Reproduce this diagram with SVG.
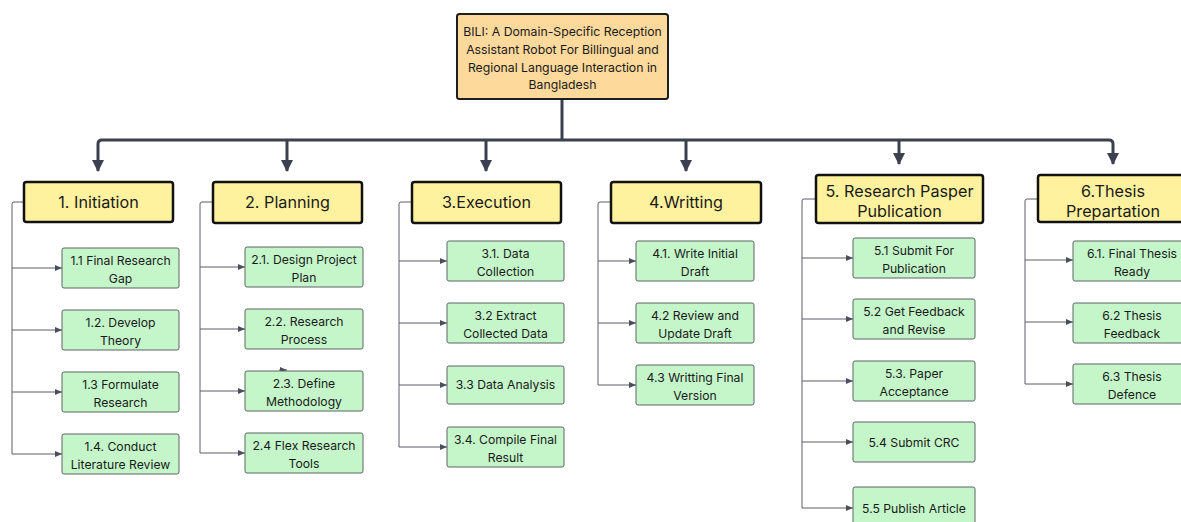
<svg xmlns="http://www.w3.org/2000/svg" width="1181" height="522" viewBox="0 0 1181 522">
  <style>
    .root { fill: #FDD99C; stroke: #1e1e1e; stroke-width: 2; }
    .phase { fill: #FFF29E; stroke: #111111; stroke-width: 2.5; }
    .task { fill: #C4F6CA; stroke: #5f6368; stroke-width: 1; }
    .t { font-family: Inter, "Noto Sans", "Liberation Sans", sans-serif; fill: #1a1a1a; text-anchor: middle; }
    .rt { font-size: 12.25px; }
    .pt { font-size: 16.2px; }
    .ct { font-size: 12.2px; }
    .bus { fill: none; stroke: #3c4150; stroke-width: 3; stroke-linejoin: round; }
    .sub { fill: none; stroke: #5a5f6b; stroke-width: 1; }
  </style>
  <defs>
    <marker id="bigArrow" markerUnits="userSpaceOnUse" markerWidth="12" markerHeight="12" refX="11" refY="6" orient="auto">
      <path d="M0,0 L12,6 L0,12 z" fill="#3c4150"/>
    </marker>
    <marker id="smallArrow" markerUnits="userSpaceOnUse" markerWidth="7" markerHeight="6" refX="7" refY="3" orient="auto">
      <path d="M0,0 L7,3 L0,6 z" fill="#4a4f5c"/>
    </marker>
  </defs>
  <rect width="1181" height="522" fill="#ffffff"/>

  <!-- connectors -->
  <g id="connectors">
    <!-- trunk and bus -->
    <path class="bus" d="M562,99 V140"/>
    <path class="bus" d="M560,140 H102 Q98,140 98,144 V171" marker-end="url(#bigArrow)"/>
    <path class="bus" d="M560,140 H1109 Q1113,140 1113,144 V164" marker-end="url(#bigArrow)"/>
    <path class="bus" d="M287,140 V171" marker-end="url(#bigArrow)"/>
    <path class="bus" d="M486,140 V171" marker-end="url(#bigArrow)"/>
    <path class="bus" d="M686,140 V171" marker-end="url(#bigArrow)"/>
    <path class="bus" d="M899,140 V164" marker-end="url(#bigArrow)"/>

    <!-- 1. Initiation -->
    <path class="sub" d="M24,202 H14 Q12,202 12,204 V454"/>
    <path class="sub" d="M12,268 H62" marker-end="url(#smallArrow)"/>
    <path class="sub" d="M12,330 H62" marker-end="url(#smallArrow)"/>
    <path class="sub" d="M12,392 H62" marker-end="url(#smallArrow)"/>
    <path class="sub" d="M12,454 H62" marker-end="url(#smallArrow)"/>

    <!-- 2. Planning -->
    <path class="sub" d="M213,202 H202 Q200,202 200,204 V453"/>
    <path class="sub" d="M200,267 H245" marker-end="url(#smallArrow)"/>
    <path class="sub" d="M200,329 H245" marker-end="url(#smallArrow)"/>
    <path class="sub" d="M200,391 H245" marker-end="url(#smallArrow)"/>
    <path class="sub" d="M200,453 H245" marker-end="url(#smallArrow)"/>
    <path class="sub" d="M279,370 H287" marker-end="url(#smallArrow)"/>

    <!-- 3. Execution -->
    <path class="sub" d="M412,202 H401 Q399,202 399,204 V447"/>
    <path class="sub" d="M399,261 H447" marker-end="url(#smallArrow)"/>
    <path class="sub" d="M399,323 H447" marker-end="url(#smallArrow)"/>
    <path class="sub" d="M399,385 H447" marker-end="url(#smallArrow)"/>
    <path class="sub" d="M399,447 H447" marker-end="url(#smallArrow)"/>

    <!-- 4. Writting -->
    <path class="sub" d="M611,202 H600 Q598,202 598,204 V385"/>
    <path class="sub" d="M598,261 H636" marker-end="url(#smallArrow)"/>
    <path class="sub" d="M598,323 H636" marker-end="url(#smallArrow)"/>
    <path class="sub" d="M598,385 H636" marker-end="url(#smallArrow)"/>

    <!-- 5. Research Pasper Publication -->
    <path class="sub" d="M816,199 H804 Q802,199 802,201 V508"/>
    <path class="sub" d="M802,258 H853" marker-end="url(#smallArrow)"/>
    <path class="sub" d="M802,319 H853" marker-end="url(#smallArrow)"/>
    <path class="sub" d="M802,381 H853" marker-end="url(#smallArrow)"/>
    <path class="sub" d="M802,442 H853" marker-end="url(#smallArrow)"/>
    <path class="sub" d="M802,508 H853" marker-end="url(#smallArrow)"/>

    <!-- 6. Thesis Prepartation -->
    <path class="sub" d="M1038,199 H1027 Q1025,199 1025,201 V384"/>
    <path class="sub" d="M1025,260 H1073" marker-end="url(#smallArrow)"/>
    <path class="sub" d="M1025,322 H1073" marker-end="url(#smallArrow)"/>
    <path class="sub" d="M1025,384 H1073" marker-end="url(#smallArrow)"/>
  </g>

  <!-- root -->
  <g id="root">
    <rect class="root" x="457" y="14" width="211" height="85" rx="2.5"/>
    <text class="t rt" x="562.5" y="35.5">BILI: A Domain-Specific Reception</text>
    <text class="t rt" x="562.5" y="53.5">Assistant Robot For Billingual and</text>
    <text class="t rt" x="562.5" y="71.5">Regional Language Interaction in</text>
    <text class="t rt" x="562.5" y="89">Bangladesh</text>
  </g>

  <!-- phases -->
  <g id="phase-1">
    <rect class="phase" x="24" y="182" width="149" height="40" rx="2.5"/>
    <text class="t pt" x="98.5" y="208">1. Initiation</text>
  </g>
  <g id="phase-2">
    <rect class="phase" x="213" y="182" width="149" height="41" rx="2.5"/>
    <text class="t pt" x="287.5" y="208">2. Planning</text>
  </g>
  <g id="phase-3">
    <rect class="phase" x="412" y="182" width="149" height="41" rx="2.5"/>
    <text class="t pt" x="486.5" y="208">3.Execution</text>
  </g>
  <g id="phase-4">
    <rect class="phase" x="611" y="182" width="150" height="41" rx="2.5"/>
    <text class="t pt" x="686" y="208">4.Writting</text>
  </g>
  <g id="phase-5">
    <rect class="phase" x="816" y="175" width="167" height="48" rx="2.5"/>
    <text class="t pt" x="899.5" y="197">5. Research Pasper</text>
    <text class="t pt" x="899.5" y="217">Publication</text>
  </g>
  <g id="phase-6">
    <rect class="phase" x="1038" y="175" width="150" height="47" rx="2.5"/>
    <text class="t pt" x="1113" y="197">6.Thesis</text>
    <text class="t pt" x="1113" y="217">Prepartation</text>
  </g>

  <!-- 1. Initiation tasks -->
  <g id="task-1-1">
    <rect class="task" x="62" y="248" width="117" height="40" rx="2"/>
    <text class="t ct" x="120.5" y="265">1.1 Final Research</text>
    <text class="t ct" x="120.5" y="283">Gap</text>
  </g>
  <g id="task-1-2">
    <rect class="task" x="62" y="310" width="117" height="40" rx="2"/>
    <text class="t ct" x="120.5" y="327">1.2. Develop</text>
    <text class="t ct" x="120.5" y="345">Theory</text>
  </g>
  <g id="task-1-3">
    <rect class="task" x="62" y="372" width="117" height="40" rx="2"/>
    <text class="t ct" x="120.5" y="389">1.3 Formulate</text>
    <text class="t ct" x="120.5" y="407">Research</text>
  </g>
  <g id="task-1-4">
    <rect class="task" x="62" y="434" width="117" height="40" rx="2"/>
    <text class="t ct" x="120.5" y="451">1.4. Conduct</text>
    <text class="t ct" x="120.5" y="469">Literature Review</text>
  </g>

  <!-- 2. Planning tasks -->
  <g id="task-2-1">
    <rect class="task" x="245" y="247" width="118" height="40" rx="2"/>
    <text class="t ct" x="304" y="264">2.1. Design Project</text>
    <text class="t ct" x="304" y="282">Plan</text>
  </g>
  <g id="task-2-2">
    <rect class="task" x="245" y="309" width="118" height="40" rx="2"/>
    <text class="t ct" x="304" y="326">2.2. Research</text>
    <text class="t ct" x="304" y="344">Process</text>
  </g>
  <g id="task-2-3">
    <rect class="task" x="245" y="371" width="118" height="40" rx="2"/>
    <text class="t ct" x="304" y="388">2.3. Define</text>
    <text class="t ct" x="304" y="406">Methodology</text>
  </g>
  <g id="task-2-4">
    <rect class="task" x="245" y="433" width="118" height="40" rx="2"/>
    <text class="t ct" x="304" y="450">2.4 Flex Research</text>
    <text class="t ct" x="304" y="468">Tools</text>
  </g>

  <!-- 3. Execution tasks -->
  <g id="task-3-1">
    <rect class="task" x="447" y="241" width="117" height="40" rx="2"/>
    <text class="t ct" x="505.5" y="258">3.1. Data</text>
    <text class="t ct" x="505.5" y="276">Collection</text>
  </g>
  <g id="task-3-2">
    <rect class="task" x="447" y="303" width="117" height="40" rx="2"/>
    <text class="t ct" x="505.5" y="320">3.2 Extract</text>
    <text class="t ct" x="505.5" y="338">Collected Data</text>
  </g>
  <g id="task-3-3">
    <rect class="task" x="447" y="366" width="117" height="38" rx="2"/>
    <text class="t ct" x="505.5" y="389">3.3 Data Analysis</text>
  </g>
  <g id="task-3-4">
    <rect class="task" x="447" y="427" width="117" height="40" rx="2"/>
    <text class="t ct" x="505.5" y="444">3.4. Compile Final</text>
    <text class="t ct" x="505.5" y="462">Result</text>
  </g>

  <!-- 4. Writting tasks -->
  <g id="task-4-1">
    <rect class="task" x="636" y="241" width="118" height="40" rx="2"/>
    <text class="t ct" x="695" y="258">4.1. Write Initial</text>
    <text class="t ct" x="695" y="276">Draft</text>
  </g>
  <g id="task-4-2">
    <rect class="task" x="636" y="303" width="118" height="40" rx="2"/>
    <text class="t ct" x="695" y="320">4.2 Review and</text>
    <text class="t ct" x="695" y="338">Update Draft</text>
  </g>
  <g id="task-4-3">
    <rect class="task" x="636" y="365" width="118" height="40" rx="2"/>
    <text class="t ct" x="695" y="382">4.3 Writting Final</text>
    <text class="t ct" x="695" y="400">Version</text>
  </g>

  <!-- 5. Research Pasper Publication tasks -->
  <g id="task-5-1">
    <rect class="task" x="853" y="238" width="122" height="40" rx="2"/>
    <text class="t ct" x="914" y="255">5.1 Submit For</text>
    <text class="t ct" x="914" y="273">Publication</text>
  </g>
  <g id="task-5-2">
    <rect class="task" x="853" y="299" width="122" height="40" rx="2"/>
    <text class="t ct" x="914" y="316">5.2 Get Feedback</text>
    <text class="t ct" x="914" y="334">and Revise</text>
  </g>
  <g id="task-5-3">
    <rect class="task" x="853" y="361" width="122" height="40" rx="2"/>
    <text class="t ct" x="914" y="378">5.3. Paper</text>
    <text class="t ct" x="914" y="396">Acceptance</text>
  </g>
  <g id="task-5-4">
    <rect class="task" x="853" y="422" width="122" height="40" rx="2"/>
    <text class="t ct" x="914" y="447">5.4 Submit CRC</text>
  </g>
  <g id="task-5-5">
    <rect class="task" x="853" y="487" width="122" height="40" rx="2"/>
    <text class="t ct" x="914" y="512.5">5.5 Publish Article</text>
  </g>

  <!-- 6. Thesis Prepartation tasks -->
  <g id="task-6-1">
    <rect class="task" x="1073" y="241" width="118" height="40" rx="2"/>
    <text class="t ct" x="1132" y="258">6.1. Final Thesis</text>
    <text class="t ct" x="1132" y="276">Ready</text>
  </g>
  <g id="task-6-2">
    <rect class="task" x="1073" y="303" width="118" height="40" rx="2"/>
    <text class="t ct" x="1132" y="320">6.2 Thesis</text>
    <text class="t ct" x="1132" y="338">Feedback</text>
  </g>
  <g id="task-6-3">
    <rect class="task" x="1073" y="364" width="118" height="40" rx="2"/>
    <text class="t ct" x="1132" y="381">6.3 Thesis</text>
    <text class="t ct" x="1132" y="399">Defence</text>
  </g>
</svg>
